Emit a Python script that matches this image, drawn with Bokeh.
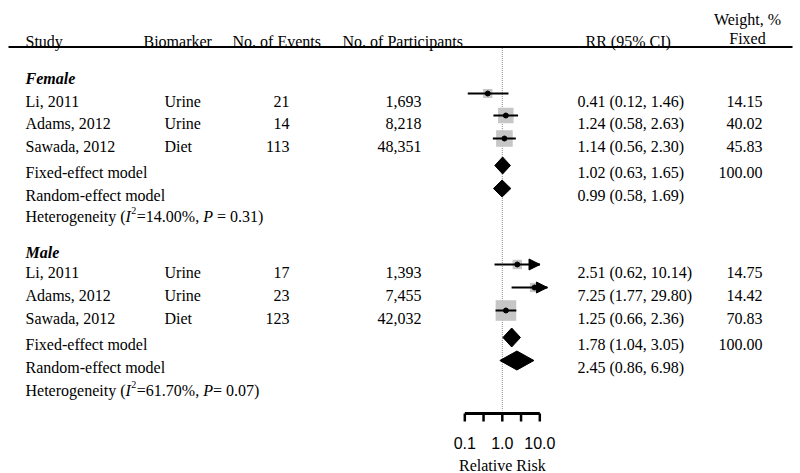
import numpy as np
from bokeh.plotting import figure
from bokeh.models import Range1d, LogScale, ColumnDataSource, Arrow, NormalHead
from bokeh.core.properties import value
from bokeh.embed import file_html
from bokeh.resources import INLINE

# ---------------- data ----------------
columns = ["Study", "Biomarker", "No. of Events", "No. of Participants", "RR (95% CI)"]
weight_header = ["Weight, %", "Fixed"]
groups = ["Female", "Male"]

female_study = ["Li, 2011", "Adams, 2012", "Sawada, 2012"]
female_biomarker = ["Urine", "Urine", "Diet"]
female_events = [21, 14, 113]
female_participants = [1693, 8218, 48351]
female_rr = [0.41, 1.24, 1.14]
female_lo = [0.12, 0.58, 0.56]
female_hi = [1.46, 2.63, 2.30]
female_weight = [14.15, 40.02, 45.83]
female_fixed = [1.02, 0.63, 1.65]
female_random = [0.99, 0.58, 1.69]
female_i2 = 14.00
female_p = "0.31"

male_study = ["Li, 2011", "Adams, 2012", "Sawada, 2012"]
male_biomarker = ["Urine", "Urine", "Diet"]
male_events = [17, 23, 123]
male_participants = [1393, 7455, 42032]
male_rr = [2.51, 7.25, 1.25]
male_lo = [0.62, 1.77, 0.66]
male_hi = [10.14, 29.80, 2.36]
male_weight = [14.75, 14.42, 70.83]
male_fixed = [1.78, 1.04, 3.05]
male_random = [2.45, 0.86, 6.98]
male_i2 = 61.70
male_p = "0.07"
p_eq = [" = ", "= "]

axis_ticks = [0.1, 10 ** -0.5, 1.0, 10 ** 0.5, 10.0]
axis_tick_labels = ["0.1", "", "1.0", "", "10.0"]
axis_title = "Relative Risk"
AXIS_MIN, AXIS_MAX = 0.1, 10.0
ARROW_CLIP = 16.0

# ---------------- layout (pixels) ----------------
W, H = 800, 473
SERIF = value("Liberation Serif")
SANS = value("Liberation Sans")
FS = "16px"

group_base = [78, 252]
row_base = [[101, 123, 146], [272, 295, 318]]
fixed_base = [172, 344]
random_base = [195, 367]
het_base = [216, 390]
MARK_UP = 8
DIAMOND_H = [8.5, 9.5]

X_STUDY, X_BIO_H, X_BIO, X_EV_H, X_EV = 25, 143, 164, 232, 289
X_PART_H, X_PART, X_RR_H, X_RR, X_W = 342, 421, 585, 577, 762
X_W_HEAD = 747
HEADER_BASE = 40.5
HEADER_LINE_Y = 46.5
LINE_X0, LINE_X1 = 8, 792

# log scale placement: 0.1 -> 464.3 px, 37.5 px per decade
PX_LO, PX_PER_DEC = 464.3, 37.5
lstart = np.log10(AXIS_MIN) - PX_LO / PX_PER_DEC
lend = lstart + W / PX_PER_DEC

p = figure(width=W, height=H, x_range=Range1d(0, W), y_range=Range1d(H, 0),
           output_backend="svg", toolbar_location=None, min_border=0,
           x_axis_location=None, y_axis_location=None,
           outline_line_color=None, background_fill_color="white")
p.grid.visible = False
p.extra_x_ranges = {"rr": Range1d(10 ** lstart, 10 ** lend)}
p.extra_x_scales = {"rr": LogScale()}


def txt(xs, ys, texts, align="left", font=SERIF, size=FS, style="normal"):
    p.text(x=xs, y=ys, text=texts, text_font=font, text_font_size=size,
           text_align=align, text_baseline="alphabetic", text_color="black",
           text_font_style=style)


# header
txt([X_STUDY, X_BIO_H, X_EV_H, X_PART_H, X_RR_H], [HEADER_BASE] * 5, columns)
txt([X_W_HEAD, X_W_HEAD], [19, 38], weight_header, align="center")
p.segment(x0=[LINE_X0], y0=[HEADER_LINE_Y], x1=[LINE_X1], y1=[HEADER_LINE_Y],
          line_color="black", line_width=2)

# reference line at RR = 1
p.segment(x0=[1.0], y0=[HEADER_LINE_Y + 1], x1=[1.0], y1=[410],
          x_range_name="rr", line_color="#8a8a8a", line_width=1, line_dash="1 1")

# Times / Liberation Serif advance widths (em)
REG = {'H': .722, 'e': .444, 't': .278, 'r': .333, 'o': .5, 'g': .5, 'n': .5,
       'i': .278, 'y': .5, ' ': .25, '(': .333, ')': .333, '=': .564, '%': .833,
       ',': .25, '.': .25}
for d in "0123456789":
    REG[d] = .5


def width(s, px=16):
    return sum(REG.get(c, .5) for c in s) * px


sections = [
    (female_study, female_biomarker, female_events, female_participants, female_rr,
     female_lo, female_hi, female_weight, female_fixed, female_random, female_i2, female_p),
    (male_study, male_biomarker, male_events, male_participants, male_rr,
     male_lo, male_hi, male_weight, male_fixed, male_random, male_i2, male_p),
]

for g, sec in enumerate(sections):
    study, bio, ev, part, rr, lo, hi, wt, fx, rd, i2, pv = sec
    yb = row_base[g]
    ym = [b - MARK_UP for b in yb]
    txt([X_STUDY], [group_base[g]], [groups[g]], style="bold italic")
    txt([X_STUDY] * 3, yb, study)
    txt([X_BIO] * 3, yb, bio)
    txt([X_EV] * 3, yb, [str(v) for v in ev], align="right")
    txt([X_PART] * 3, yb, [f"{v:,}" for v in part], align="right")
    txt([X_RR] * 3, yb, [f"{a:.2f} ({b:.2f}, {c:.2f})" for a, b, c in zip(rr, lo, hi)])
    txt([X_W] * 3, yb, [f"{v:.2f}" for v in wt], align="right")

    txt([X_STUDY, X_STUDY], [fixed_base[g], random_base[g]],
        ["Fixed-effect model", "Random-effect model"])
    txt([X_RR, X_RR], [fixed_base[g], random_base[g]],
        [f"{m[0]:.2f} ({m[1]:.2f}, {m[2]:.2f})" for m in (fx, rd)])
    txt([X_W], [fixed_base[g]], [f"{sum(wt):.2f}"], align="right")

    # heterogeneity line built from pieces
    hb = het_base[g]
    x = X_STUDY
    s1 = "Heterogeneity ("
    txt([x], [hb], [s1]); x += width(s1)
    txt([x], [hb], ["I"], style="italic"); x += .333 * 16 + 0.5
    txt([x], [hb - 6], ["2"], size="10px"); x += 5.5
    s4 = f"={i2:.2f}%,"
    txt([x], [hb], [s4]); x += width(s4 + " ")
    txt([x], [hb], ["P"], style="italic"); x += .611 * 16
    sep = p_eq[g]
    if sep.startswith(" "):
        x += width(" ")
    s6 = f"{sep.strip()} {pv})"
    txt([x], [hb], [s6])

    # squares (size ~ sqrt weight)
    p.scatter(x=rr, y=ym, marker="square", size=[2.45 * np.sqrt(w) for w in wt],
              x_range_name="rr", fill_color="#c6c6c6", line_color=None)
    # CI lines (clipped), arrow heads where CI passes the axis end
    tips = [min(h, ARROW_CLIP) for h in hi]
    p.segment(x0=lo, y0=ym, x1=tips, y1=ym, x_range_name="rr",
              line_color="black", line_width=2)
    out = [k for k in range(3) if hi[k] > AXIS_MAX]
    if out:
        src = ColumnDataSource(dict(x0=[tips[k] * 0.97 for k in out],
                                    y0=[ym[k] for k in out],
                                    x1=[tips[k] for k in out],
                                    y1=[ym[k] for k in out]))
        p.add_layout(Arrow(x_start="x0", y_start="y0", x_end="x1", y_end="y1",
                           source=src, x_range_name="rr", line_color="black",
                           line_width=2,
                           end=NormalHead(size=11, fill_color="black",
                                          line_color="black", line_width=1)))
    p.scatter(x=rr, y=ym, marker="circle", size=5, x_range_name="rr",
              fill_color="black", line_color="black")

    # diamonds
    dh = DIAMOND_H[g]
    xs, ys = [], []
    for m, b in ((fx, fixed_base[g]), (rd, random_base[g])):
        yc = b - MARK_UP + 1
        xs.append([m[1], m[0], m[2], m[0]])
        ys.append([yc, yc - dh, yc, yc + dh])
    p.patches(xs=xs, ys=ys, x_range_name="rr", fill_color="black", line_color="black")

# x axis
AXIS_Y = 413
p.segment(x0=[AXIS_MIN], y0=[AXIS_Y], x1=[AXIS_MAX], y1=[AXIS_Y], x_range_name="rr",
          line_color="black", line_width=3)
p.segment(x0=axis_ticks, y0=[AXIS_Y] * 5, x1=axis_ticks, y1=[AXIS_Y + 8] * 5,
          x_range_name="rr", line_color="black", line_width=2.5)
p.text(x=axis_ticks, y=[442] * 5, text=axis_tick_labels, x_range_name="rr",
       text_font=SANS, text_font_size="16px", text_align="center",
       text_baseline="alphabetic", text_color="black")
p.text(x=[1.0], y=[465], text=[axis_title], x_range_name="rr",
       text_font=SERIF, text_font_size="16px", text_align="center",
       text_baseline="alphabetic", text_color="black")

open("out.html", "w").write(file_html(p, INLINE))
